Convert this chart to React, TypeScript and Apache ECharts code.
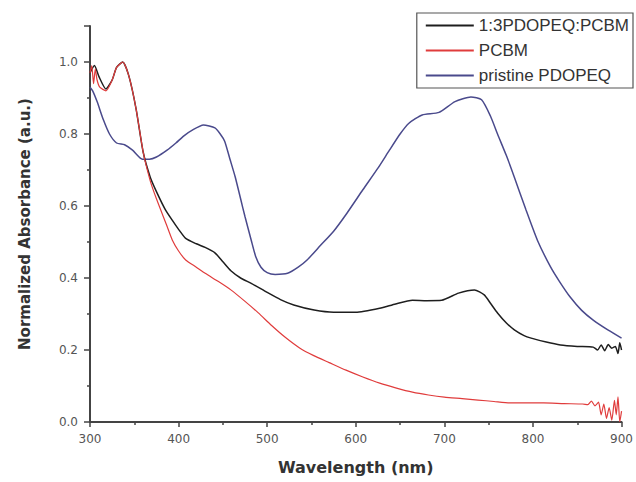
import React, { useEffect, useRef } from "react";
import * as echarts from "echarts";

const blendWl = [300, 305, 310, 318, 325, 330, 337, 344, 352, 360, 368, 375, 385, 393, 400, 408, 420, 430, 441, 450, 459, 470, 482, 500, 515, 530, 553, 575, 600, 627, 645, 664, 680, 697, 716, 734, 745, 752, 760, 770, 779, 790, 798, 815, 831, 850, 868, 873, 877, 881, 885, 889, 893, 896, 898, 900];
const blendAbs = [0.97, 0.99, 0.96, 0.925, 0.95, 0.985, 1.0, 0.96, 0.87, 0.75, 0.68, 0.64, 0.59, 0.56, 0.535, 0.51, 0.495, 0.485, 0.47, 0.445, 0.42, 0.4, 0.385, 0.36, 0.34, 0.325, 0.311, 0.305, 0.305, 0.316, 0.328, 0.338, 0.337, 0.338, 0.358, 0.367, 0.353, 0.33, 0.303, 0.275, 0.256, 0.24, 0.233, 0.222, 0.214, 0.21, 0.208, 0.2, 0.214, 0.198, 0.215, 0.205, 0.21, 0.19, 0.22, 0.2];

const pcbmWl = [300, 302, 304, 306, 308, 311, 318, 325, 330, 337, 344, 352, 360, 368, 375, 386, 393, 400, 408, 420, 430, 445, 459, 475, 490, 505, 520, 537, 552, 570, 589, 608, 627, 645, 664, 682, 700, 720, 738, 756, 775, 795, 812, 835, 856, 862, 866, 870, 874, 877, 880, 883, 886, 889, 892, 894, 896, 898, 900];
const pcbmAbs = [0.97, 0.99, 0.94, 0.98, 0.95, 0.93, 0.92, 0.95, 0.985, 1.0, 0.96, 0.87, 0.75, 0.67, 0.62, 0.55, 0.505, 0.475, 0.45, 0.43, 0.413, 0.39, 0.367, 0.335, 0.303, 0.268, 0.236, 0.205, 0.185, 0.165, 0.144, 0.125, 0.108, 0.095, 0.083, 0.075, 0.069, 0.065, 0.061, 0.057, 0.053, 0.053, 0.053, 0.051, 0.05, 0.048, 0.058, 0.045, 0.055, 0.02, 0.05, 0.01, 0.04, 0.005, 0.06, 0.02, 0.07, 0.0, 0.03];

const pristineWl = [300, 303, 308, 315, 322, 330, 339, 348, 359, 367, 375, 387, 397, 406, 415, 428, 441, 447, 452, 458, 464, 470, 475, 482, 487, 493, 500, 509, 523, 535, 545, 560, 575, 590, 608, 625, 638, 650, 660, 675, 694, 712, 730, 742, 752, 760, 770, 779, 792, 805, 820, 830, 842, 855, 868, 885, 900];
const pristineAbs = [0.93, 0.92, 0.89, 0.84, 0.8, 0.775, 0.77, 0.755, 0.73, 0.73, 0.736, 0.755, 0.775, 0.795, 0.81, 0.825, 0.817, 0.8, 0.78, 0.73, 0.68, 0.62, 0.57, 0.505, 0.46, 0.43, 0.415, 0.41, 0.413, 0.43, 0.45, 0.49, 0.53, 0.58, 0.645, 0.705, 0.755, 0.8, 0.83, 0.853, 0.86, 0.89, 0.903, 0.895, 0.85, 0.8, 0.74, 0.68, 0.59, 0.505, 0.43, 0.39, 0.347, 0.31, 0.283, 0.255, 0.233];

const seriesNames = ["1:3PDOPEQ:PCBM", "PCBM", "pristine PDOPEQ"];
const xTitle = "Wavelength (nm)";
const yTitle = "Normalized Absorbance (a.u.)";

const zip = (xs: number[], ys: number[]) => xs.map((x, i) => [x, ys[i]]);

export default function App() {
  const ref = useRef<HTMLDivElement>(null);
  useEffect(() => {
    if (!ref.current) return;
    const chart = echarts.init(ref.current, undefined, { renderer: "svg" });
    const axisColor = "#444";
    chart.setOption({
      animation: false,
      backgroundColor: "#fff",
      grid: { left: 90, right: 8, top: 26, bottom: 60, containLabel: false },
      legend: {
        orient: "vertical",
        right: 3,
        top: 13,
        itemWidth: 48,
        itemHeight: 14,
        itemGap: 8,
        padding: [4, 4, 4, 8],
        borderColor: "#555",
        borderWidth: 1.2,
        itemStyle: { opacity: 0 },
        textStyle: { fontFamily: "Liberation Sans", fontSize: 17, color: "#333" },
        data: seriesNames,
      },
      xAxis: {
        type: "value",
        min: 300,
        max: 900,
        interval: 100,
        name: xTitle,
        nameLocation: "middle",
        nameGap: 37,
        nameTextStyle: { fontFamily: "DejaVu Sans", fontWeight: "bold", fontSize: 16, color: "#333" },
        axisLine: { show: true, lineStyle: { color: axisColor, width: 2 } },
        axisTick: { show: true, inside: false, length: 5, lineStyle: { color: axisColor, width: 1.5 } },
        minorTick: { show: true, splitNumber: 2, length: 3, lineStyle: { color: axisColor, width: 1.5 } },
        axisLabel: { margin: 11, fontFamily: "DejaVu Sans", fontSize: 12, color: "#555" },
        splitLine: { show: false },
      },
      yAxis: {
        type: "value",
        min: 0,
        max: 1.1,
        interval: 0.2,
        name: yTitle,
        nameLocation: "middle",
        nameGap: 58,
        nameTextStyle: { fontFamily: "DejaVu Sans", fontWeight: "bold", fontSize: 15, color: "#333" },
        axisLine: { show: true, lineStyle: { color: axisColor, width: 2 } },
        axisTick: { show: true, inside: false, length: 6, lineStyle: { color: axisColor, width: 1.5 } },
        minorTick: { show: true, splitNumber: 2, length: 3, lineStyle: { color: axisColor, width: 1.5 } },
        axisLabel: {
          margin: 12,
          fontFamily: "DejaVu Sans",
          fontSize: 12,
          color: "#555",
          showMaxLabel: false,
          formatter: (v: number) => v.toFixed(1),
        },
        splitLine: { show: false },
      },
      series: [
        {
          name: seriesNames[0],
          type: "line",
          data: zip(blendWl, blendAbs),
          symbol: "none",
          smooth: 0.2,
          lineStyle: { color: "#1e1e1e", width: 1.5 },
          itemStyle: { color: "#1e1e1e" },
          z: 3,
        },
        {
          name: seriesNames[1],
          type: "line",
          data: zip(pcbmWl, pcbmAbs),
          symbol: "none",
          smooth: 0.2,
          lineStyle: { color: "#e03c3c", width: 1.2 },
          itemStyle: { color: "#e03c3c" },
          z: 4,
        },
        {
          name: seriesNames[2],
          type: "line",
          data: zip(pristineWl, pristineAbs),
          symbol: "none",
          smooth: 0.2,
          lineStyle: { color: "#4a4a8c", width: 1.5 },
          itemStyle: { color: "#4a4a8c" },
          z: 2,
        },
      ],
    });
    return () => chart.dispose();
  }, []);
  return (
    <div
      ref={ref}
      style={{ position: "fixed", left: 0, top: 0, width: 636, height: 482, background: "#fff" }}
    />
  );
}
